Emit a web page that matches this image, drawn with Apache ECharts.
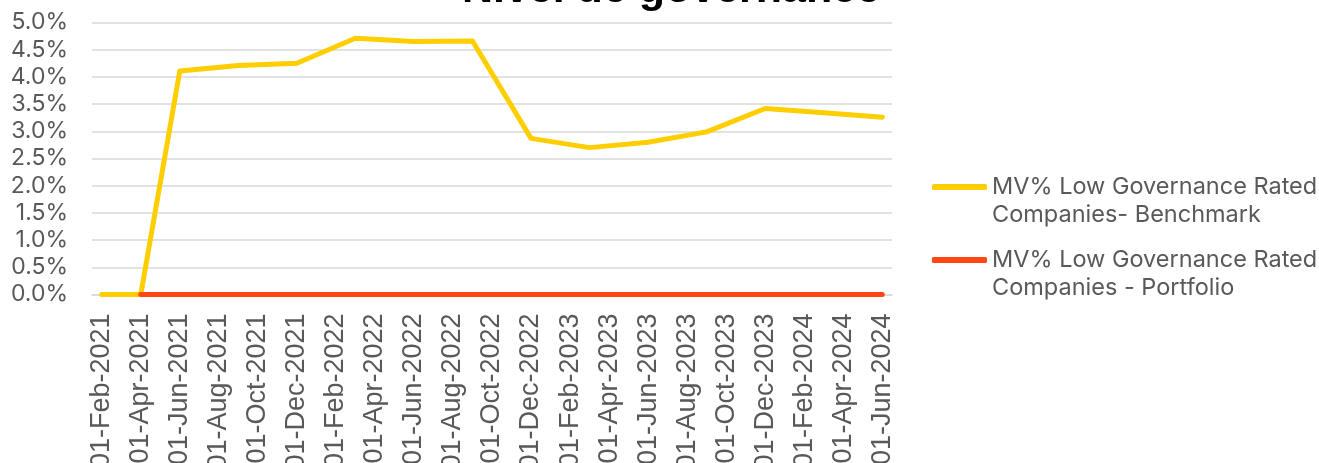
<!DOCTYPE html>
<html lang="en">
  <head>
    <meta charset="UTF-8" />
    <title>Nivel de governance</title>
    <script src="https://cdn.jsdelivr.net/npm/echarts@6/dist/echarts.min.js"></script>
    <style>
      html,
      body {
        width: 100%;
        height: 100%;
        margin: 0;
        padding: 0;
        background: #fff;
      }
    </style>
  </head>
  <body>
    <div id="main" style="width: 1319px; height: 463px"></div>
    <script type="text/javascript">
      // month categories on the x axis (label shown every 2 months)
      var months = [
        "01-Feb-2021", "01-Mar-2021", "01-Apr-2021", "01-May-2021", "01-Jun-2021",
        "01-Jul-2021", "01-Aug-2021", "01-Sep-2021", "01-Oct-2021", "01-Nov-2021",
        "01-Dec-2021", "01-Jan-2022", "01-Feb-2022", "01-Mar-2022", "01-Apr-2022",
        "01-May-2022", "01-Jun-2022", "01-Jul-2022", "01-Aug-2022", "01-Sep-2022",
        "01-Oct-2022", "01-Nov-2022", "01-Dec-2022", "01-Jan-2023", "01-Feb-2023",
        "01-Mar-2023", "01-Apr-2023", "01-May-2023", "01-Jun-2023", "01-Jul-2023",
        "01-Aug-2023", "01-Sep-2023", "01-Oct-2023", "01-Nov-2023", "01-Dec-2023",
        "01-Jan-2024", "01-Feb-2024", "01-Mar-2024", "01-Apr-2024", "01-May-2024",
        "01-Jun-2024",
      ];
      // observation dates
      var obsDates = [
        "01-Feb-2021", "01-Apr-2021", "01-Jun-2021", "01-Sep-2021", "01-Dec-2021",
        "01-Mar-2022", "01-Jun-2022", "01-Sep-2022", "01-Dec-2022", "01-Mar-2023",
        "01-Jun-2023", "01-Sep-2023", "01-Dec-2023", "01-Mar-2024", "01-Jun-2024",
      ];
      // values in %
      var benchmark = [0, 0, 4.11, 4.21, 4.25, 4.71, 4.65, 4.66, 2.87, 2.7, 2.8, 2.99, 3.42, 3.34, 3.26];
      var portfolio = [null, 0, 0, 0, 0, 0, 0, 0, 0, 0, 0, 0, 0, 0, 0];

      var benchName = "MV% Low Governance Rated Companies- Benchmark";
      var portName = "MV% Low Governance Rated Companies - Portfolio";

      function pairs(vals) {
        var out = [];
        for (var i = 0; i < vals.length; i++) {
          if (vals[i] !== null) out.push([obsDates[i], vals[i]]);
        }
        return out;
      }

      var legendText = {
        color: "#595959",
        fontFamily: "Inter",
        fontSize: 23.5,
        lineHeight: 28,
      };
      // empty first line so the icon sits next to the first text line
      function legendFmt(name) {
        return "\n" + name.replace("Rated ", "Rated\n");
      }

      var myChart = echarts.init(document.getElementById("main"));
      var option = {
        animation: false,
        title: {
          text: "Nivel de governance",
          left: 666,
          textAlign: "center",
          top: -36,
          textStyle: {
            fontFamily: "Liberation Sans",
            fontWeight: "bold",
            fontSize: 43,
            color: "#000",
          },
        },
        legend: [
          {
            data: [benchName],
            left: 932,
            top: 145,
            padding: 0,
            orient: "vertical",
            icon: "roundRect",
            itemWidth: 55,
            itemHeight: 6,
            formatter: legendFmt,
            textStyle: legendText,
          },
          {
            data: [portName],
            left: 932,
            top: 218,
            padding: 0,
            orient: "vertical",
            icon: "roundRect",
            itemWidth: 55,
            itemHeight: 6,
            formatter: legendFmt,
            textStyle: legendText,
          },
        ],
        grid: {
          left: 92,
          right: 427,
          top: 22.5,
          bottom: 168.5,
          outerBoundsMode: "none",
        },
        xAxis: {
          type: "category",
          data: months,
          boundaryGap: true,
          axisLine: { lineStyle: { color: "#d9d9d9", width: 1.5 } },
          axisTick: { interval: 1, length: 7, lineStyle: { color: "#d9d9d9", width: 1.5 } },
          axisLabel: {
            interval: 1,
            rotate: 90,
            margin: 19,
            color: "#595959",
            fontFamily: "Liberation Sans",
            fontSize: 27,
          },
          splitLine: { show: false },
        },
        yAxis: {
          type: "value",
          min: 0,
          max: 5,
          interval: 0.5,
          axisLine: { show: false },
          axisTick: { show: false },
          axisLabel: {
            margin: 24,
            color: "#595959",
            fontFamily: "Inter",
            fontSize: 23,
            formatter: function (v) {
              return v.toFixed(1) + "%";
            },
          },
          splitLine: { lineStyle: { color: "#d9d9d9", width: 1.5 } },
        },
        series: [
          {
            name: benchName,
            type: "line",
            data: pairs(benchmark),
            showSymbol: false,
            symbol: "none",
            color: "#ffce00",
            lineStyle: { width: 5, color: "#ffce00", cap: "round", join: "round" },
          },
          {
            name: portName,
            type: "line",
            data: pairs(portfolio),
            showSymbol: false,
            symbol: "none",
            color: "#ff4713",
            lineStyle: { width: 5, color: "#ff4713", cap: "round", join: "round" },
          },
        ],
      };
      myChart.setOption(option);
    </script>
  </body>
</html>
